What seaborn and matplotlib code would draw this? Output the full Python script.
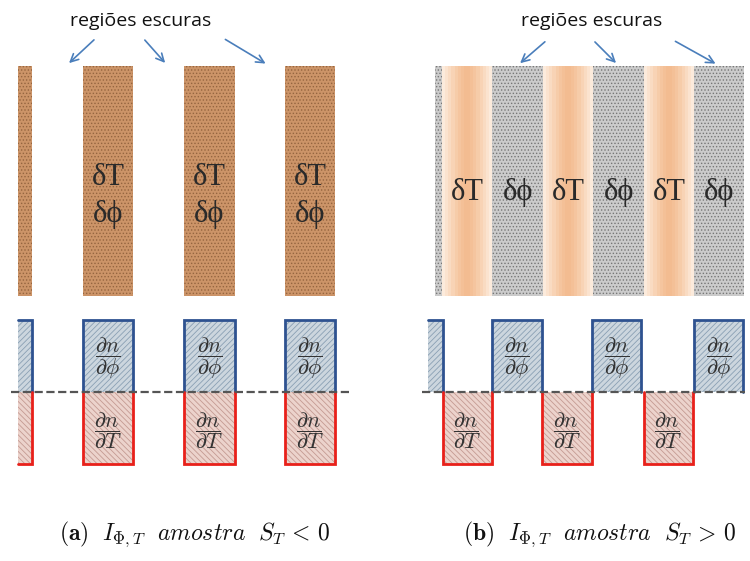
import matplotlib
matplotlib.use("Agg")
import matplotlib.pyplot as plt
import seaborn as sns
import pandas as pd

sns.set_theme(style="white")
plt.rcParams['mathtext.fontset'] = 'cm'
plt.rcParams['hatch.linewidth'] = 0.6

# geometry of the diagram (pixel units, y grows downwards)
stripe_top = 66
stripe_bottom = 296
zero_y = 392
pos_top = 320
neg_bottom = 464

# (a) dark stripes
left_dark_x = [18, 83, 184, 285]
left_dark_w = [14, 50, 51, 50]
left_text_x = [108, 209, 310]

# (b) grey background + orange stripes
right_bg = [435, 744]
right_orange_x = [442, 543, 644]
right_orange_w = 50
right_text_x = [467, 518, 568, 619, 669, 719]
right_text = ['δT', 'δϕ', 'δT', 'δϕ', 'δT', 'δϕ']

# annotation arrows: (start x, start y, end x, end y)
arrows_a = [(96, 38, 67, 65), (143, 38, 167, 65), (223, 38, 268, 65)]
arrows_b = [(547, 40, 518, 65), (593, 40, 618, 65), (673, 40, 718, 65)]
label_a_x = 141
label_b_x = 592

# lower square waves
left_phi_x = [18, 83, 184, 285]
left_phi_w = [14, 50, 51, 50]
left_T_x = [18, 83, 184, 285]
left_T_w = [14, 50, 51, 50]
right_phi_x = [428, 492, 592, 694]
right_phi_w = [15, 50, 49, 49]
right_T_x = [443, 542, 644]
right_T_w = [49, 50, 49]

dash_a = [11, 350]
dash_b = [422, 745]

fig = plt.figure(figsize=(7.5, 5.61), dpi=100)
ax = fig.add_axes([0, 0, 1, 1])

serif = ['Liberation Serif', 'DejaVu Serif']

# ---- top-left: brown stippled stripes
ax.bar(left_dark_x, stripe_bottom - stripe_top, width=left_dark_w, bottom=stripe_top,
       align='edge', color='#cc9468', edgecolor='#95653f', hatch='.....', linewidth=0)
for x in left_text_x:
    ax.text(x, 177, 'δT', ha='center', va='center', fontsize=22, family=serif, color='#2a2a2a')
    ax.text(x, 214, 'δϕ', ha='center', va='center', fontsize=22, family=serif, color='#2a2a2a')

# ---- top-right: grey stippled background with orange gradient stripes
ax.bar([right_bg[0]], stripe_bottom - stripe_top, width=right_bg[1] - right_bg[0], bottom=stripe_top,
       align='edge', color='#cbcbcb', edgecolor='#767676', hatch='.....', linewidth=0)
shades = ['#fcebdc', '#fbe3cf', '#f9dbc2', '#f8d3b5', '#f6cca9', '#f5c59f', '#f4c097', '#f3bc91']
for i, col in enumerate(shades):
    w = right_orange_w * (1 - i / len(shades))
    ax.bar([x + right_orange_w / 2 for x in right_orange_x], stripe_bottom - stripe_top,
           width=w, bottom=stripe_top, align='center', color=col, linewidth=0)
for x, t in zip(right_text_x, right_text):
    ax.text(x, 192, t, ha='center', va='center', fontsize=22, family=serif, color='#2a2a2a')

# ---- labels and arrows
for lx in [label_a_x, label_b_x]:
    ax.text(lx, 21, 'regiões escuras', ha='center', va='center', fontsize=14,
            family=['Open Sans', 'DejaVu Sans'], color='#111111')
for x0, y0, x1, y1 in arrows_a + arrows_b:
    ax.annotate('', xy=(x1, y1), xytext=(x0, y0),
                arrowprops=dict(arrowstyle='->', color='#4a7ebb', lw=1.2, mutation_scale=14))

# ---- lower square waves
blue_edge = '#2e5290'
red_edge = '#e8201a'


def boxes(xs, ws, positive, open_left):
    if positive:
        ax.bar(xs, zero_y - pos_top, width=ws, bottom=pos_top, align='edge',
               color='#ccd6de', edgecolor='#8aa0b4', hatch='//////', linewidth=0)
    else:
        ax.bar(xs, neg_bottom - zero_y, width=ws, bottom=zero_y, align='edge',
               color='#ecd3cc', edgecolor='#c49a92', hatch='\\\\\\\\\\\\', linewidth=0)
    yy = pos_top if positive else neg_bottom
    for i, (x, w) in enumerate(zip(xs, ws)):
        if i == 0 and open_left:
            px, py = [x, x + w, x + w], [yy, yy, zero_y]
        else:
            px, py = [x, x, x + w, x + w], [zero_y, yy, yy, zero_y]
        ax.plot(px, py, color=blue_edge if positive else red_edge, lw=2, solid_joinstyle='miter')
        if i == 0 and open_left:
            continue
        cx = x + w / 2
        if positive:
            ax.text(cx, 358, r'$\dfrac{\partial n}{\partial \phi}$', ha='center', va='center',
                    fontsize=16, color='#333333')
        else:
            ax.text(cx, 431, r'$\dfrac{\partial n}{\partial T}$', ha='center', va='center',
                    fontsize=16, color='#333333')


boxes(left_phi_x, left_phi_w, True, True)
boxes(left_T_x, left_T_w, False, True)
boxes(right_phi_x, right_phi_w, True, True)
boxes(right_T_x, right_T_w, False, False)

for d in [dash_a, dash_b]:
    dash_df = pd.DataFrame({'x': d, 'y': [zero_y, zero_y]})
    sns.lineplot(data=dash_df, x='x', y='y', ax=ax, color='#555555', lw=1.6,
                 dashes=(5, 3), linestyle='--')

ax.set_xlim(0, 750)
ax.set_ylim(561, 0)
ax.axis('off')

# ---- captions
ax.text(195, 534, r'$\mathbf{(a)}\ \ I_{\Phi,T}\ \ \mathit{amostra}\ \ S_T\, <\, \mathit{0}$',
        ha='center', va='center', fontsize=17, color='#111111')
ax.text(600, 534, r'$\mathbf{(b)}\ \ I_{\Phi,T}\ \ \mathit{amostra}\ \ S_T\, >\, \mathit{0}$',
        ha='center', va='center', fontsize=17, color='#111111')

fig.savefig('out.png', dpi=100, facecolor='white')
